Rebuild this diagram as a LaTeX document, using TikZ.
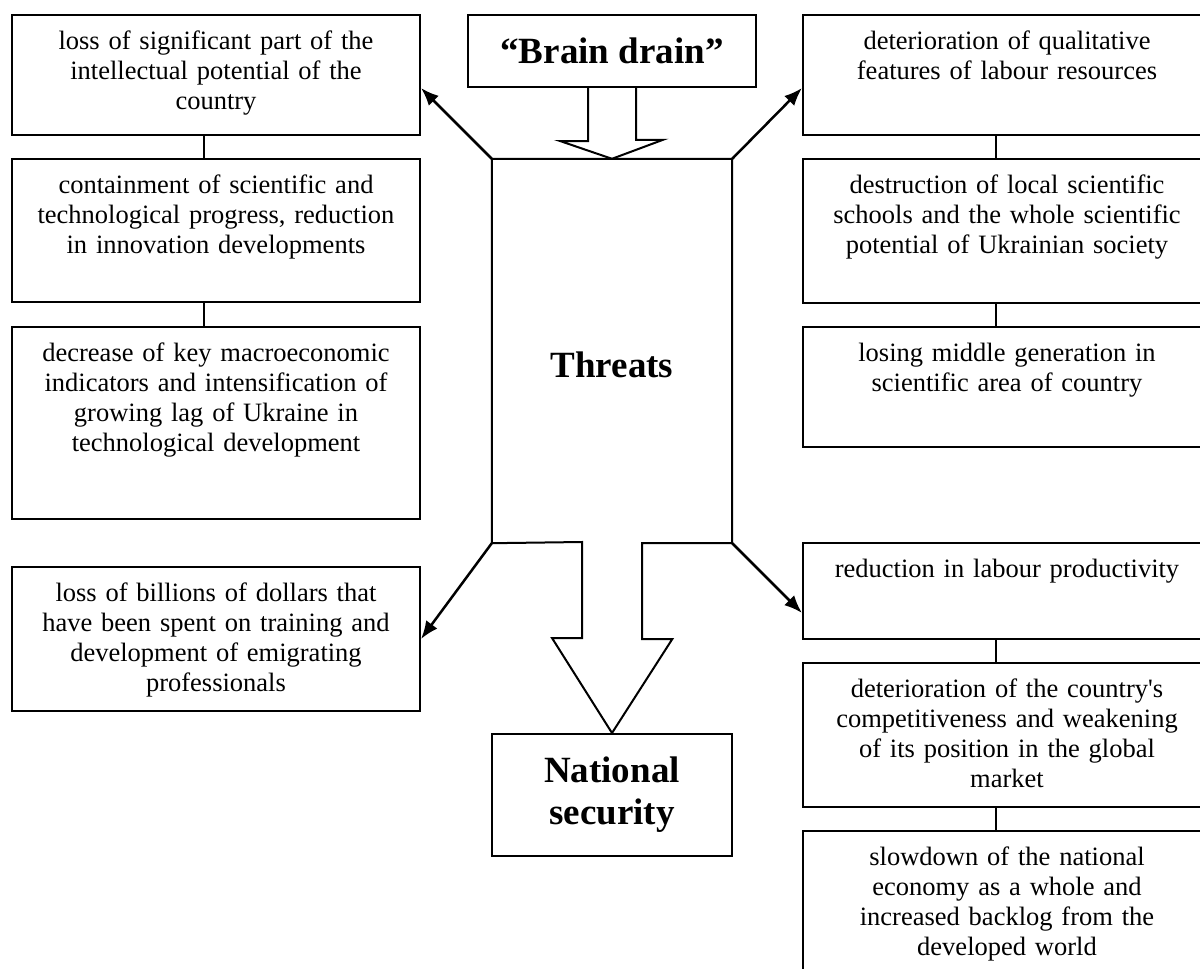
\documentclass[tikz,border=0pt]{standalone}
\usepackage{fontspec}
\setmainfont{Liberation Serif}
\usetikzlibrary{arrows.meta,positioning}
\tikzset{blk/.style={draw,line width=2,minimum width=408,inner sep=0},
         txt/.style={anchor=base,yshift=-35,text width=404,align=center,inner sep=0,font=\fontsize{26.5}{30}\selectfont},
         hd/.style={draw,line width=2,minimum width=240,inner sep=0,align=center,font=\bfseries\fontsize{37}{42}\selectfont},
         line/.style={line width=2},
         arr/.style={-{Latex[length=18,width=14]},line width=2.5}
}

\begin{document}
\begin{tikzpicture}[x=1pt,y=-1pt]
\useasboundingbox (0,0) rectangle (1200,969);

% Left column
\node[blk,minimum height=120,label={[txt]north:{loss of significant part of the\\intellectual potential of the\\country}}] (L1) at (216,75) {};
\node[blk,minimum height=143,label={[txt]north:{containment of scientific and\\technological progress, reduction\\in innovation developments}}] (L2) at (216,230.5) {};
\node[blk,minimum height=192,label={[txt]north:{decrease of key macroeconomic\\indicators and intensification of\\growing lag of Ukraine in\\technological development}}] (L3) at (216,423) {};
\node[blk,minimum height=144,label={[txt]north:{loss of billions of dollars that\\have been spent on training and\\development of emigrating\\professionals}}] (L4) at (216,639) {};

% Right column
\node[blk,minimum height=120,label={[txt]north:{deterioration of qualitative\\features of labour resources}}] (R1) at (1007,75) {};
\node[blk,minimum height=144,label={[txt]north:{destruction of local scientific\\schools and the whole scientific\\potential of Ukrainian society}}] (R2) at (1007,231) {};
\node[blk,minimum height=120,label={[txt]north:{losing middle generation in\\scientific area of country}}] (R3) at (1007,387) {};
\node[blk,minimum height=96,label={[txt]north:{reduction in labour productivity}}] (R4) at (1007,591) {};
\node[blk,minimum height=144,label={[txt]north:{deterioration of the country\textquotesingle s\\competitiveness and weakening\\of its position in the global\\market}}] (R5) at (1007,735) {};
\node[blk,minimum height=144,label={[txt]north:{slowdown of the national\\economy as a whole and\\increased backlog from the\\developed world}}] (R6) at (1007,903) {};

% Centre
\node[hd,minimum width=288,minimum height=72] (bd) at (612,51) {“Brain drain”};
\node[minimum width=240,minimum height=384,inner sep=0,
      label={[font=\bfseries\fontsize{37}{42}\selectfont,yshift=-14]center:Threats}] (thr) at (612,351) {};
\node[hd,minimum height=122] (ns) at (612,795) {National\\security};

% Hollow arrows
\draw[line] ([xshift=-24]bd.south) -- ++(0,53) -- ++(-28,0) -- (thr.north) -- ++(51,-19) -- ++(-27,0) -- ([xshift=24]bd.south);
\draw[line] (thr.south west) -- (thr.north west) -- (thr.north east) -- (thr.south east) -- ++(-90,0) -- ++(0,96) -- ++(30,0)
      -- (ns.north) -- ++(-60,-95) -- ++(30,0) -- ++(0,-96) -- cycle;

% Arrows
\draw[arr] (thr.north west) -- ([yshift=-13]L1.east);
\draw[arr] (thr.north east) -- ([yshift=-13]R1.west);
\draw[arr] (thr.south west) -- (L4.east);
\draw[arr] (thr.south east) -- ([yshift=-22]R4.west);

% Links
\draw[line] ([xshift=-12]L1.south) -- ([xshift=-12]L2.north);
\draw[line] ([xshift=-12]L2.south) -- ([xshift=-12]L3.north);
\draw[line] ([xshift=-11]R1.south) -- ([xshift=-11]R2.north);
\draw[line] ([xshift=-11]R2.south) -- ([xshift=-11]R3.north);
\draw[line] ([xshift=-11]R4.south) -- ([xshift=-11]R5.north);
\draw[line] ([xshift=-11]R5.south) -- ([xshift=-11]R6.north);

\end{tikzpicture}
\end{document}
